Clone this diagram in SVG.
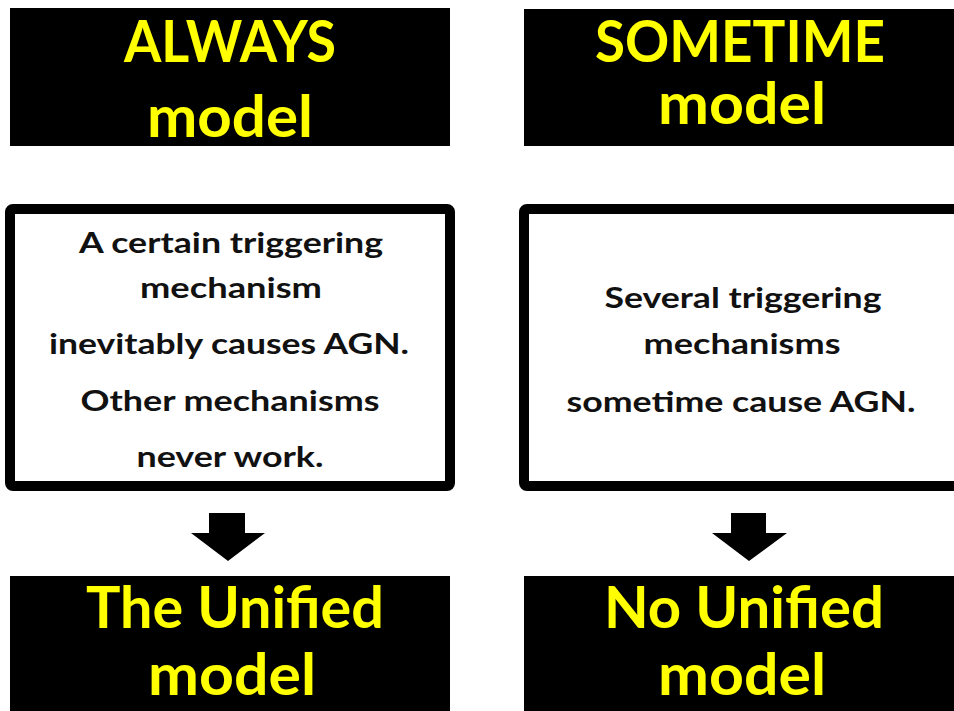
<svg xmlns="http://www.w3.org/2000/svg" width="954" height="711" viewBox="0 0 954 711">
<style>
.bk{fill:#000}
.frame{fill:#fff;stroke:#000;stroke-width:10}
.yt{font-family:Lato,"Open Sans","Liberation Sans",sans-serif;font-weight:bold;font-size:58px;fill:#ffff00;text-anchor:middle}
.bt{font-family:Lato,"Open Sans","Liberation Sans",sans-serif;font-weight:bold;font-size:29px;fill:#111;text-anchor:middle}
.arrow{fill:#000}
</style>
<rect width="954" height="711" fill="#fff"/>
<g id="always">
<rect class="bk" x="10" y="8" width="440" height="138"/>
<text class="yt" x="230" y="62" textLength="212" lengthAdjust="spacingAndGlyphs">ALWAYS</text>
<text class="yt" x="230" y="137" textLength="166" lengthAdjust="spacingAndGlyphs">model</text>
</g>
<g id="sometime">
<rect class="bk" x="524" y="9" width="440" height="137"/>
<text class="yt" x="740" y="62" textLength="290" lengthAdjust="spacingAndGlyphs">SOMETIME</text>
<text class="yt" x="742" y="124" textLength="168" lengthAdjust="spacingAndGlyphs">model</text>
</g>
<g id="always-desc">
<rect class="frame" x="10" y="209" width="440" height="277" rx="3"/>
<text class="bt" x="231" y="253" textLength="304" lengthAdjust="spacingAndGlyphs">A certain triggering</text>
<text class="bt" x="231" y="298" textLength="182" lengthAdjust="spacingAndGlyphs">mechanism</text>
<text class="bt" x="229" y="354" textLength="360" lengthAdjust="spacingAndGlyphs">inevitably causes AGN.</text>
<text class="bt" x="230" y="411" textLength="299" lengthAdjust="spacingAndGlyphs">Other mechanisms</text>
<text class="bt" x="230" y="467" textLength="187" lengthAdjust="spacingAndGlyphs">never work.</text>
</g>
<g id="sometime-desc">
<rect class="frame" x="524" y="209" width="440" height="277" rx="3"/>
<text class="bt" x="743" y="308" textLength="277" lengthAdjust="spacingAndGlyphs">Several triggering</text>
<text class="bt" x="742" y="354" textLength="197" lengthAdjust="spacingAndGlyphs">mechanisms</text>
<text class="bt" x="741" y="412" textLength="349" lengthAdjust="spacingAndGlyphs">sometime cause AGN.</text>
</g>
<g id="unified">
<rect class="bk" x="10" y="576" width="440" height="140"/>
<text class="yt" x="235" y="628" textLength="298" lengthAdjust="spacingAndGlyphs">The Unified</text>
<text class="yt" x="232" y="695" textLength="168" lengthAdjust="spacingAndGlyphs">model</text>
</g>
<g id="no-unified">
<rect class="bk" x="524" y="576" width="440" height="140"/>
<text class="yt" x="744" y="628" textLength="280" lengthAdjust="spacingAndGlyphs">No Unified</text>
<text class="yt" x="742" y="695" textLength="168" lengthAdjust="spacingAndGlyphs">model</text>
</g>
<g id="connectors">
<polygon class="arrow" points="209,513 245,513 245,533 265,533 228,561 191,533 209,533"/>
<polygon class="arrow" points="731,513 766,513 766,533 787,533 749,561 712,533 731,533"/>
</g>
</svg>
